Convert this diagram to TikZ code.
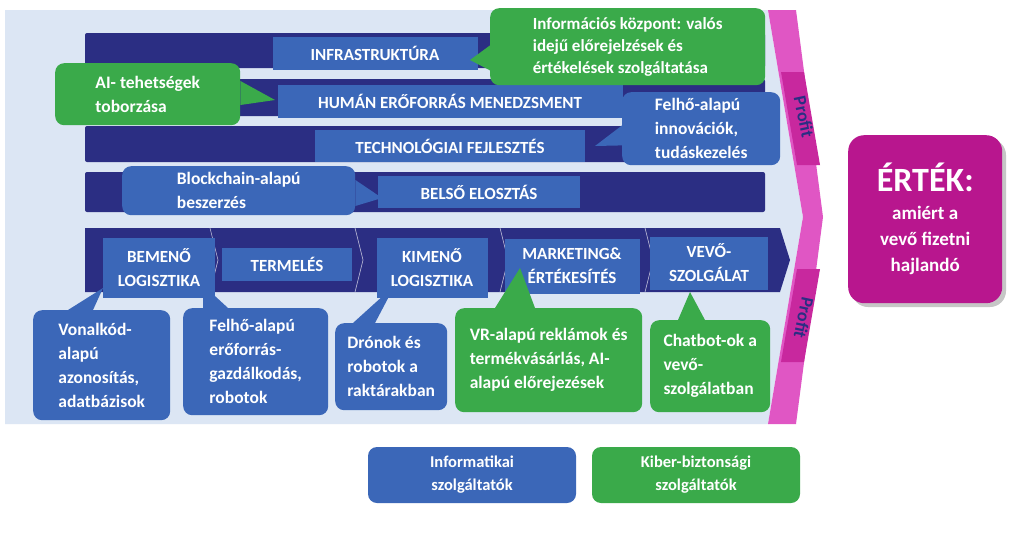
\documentclass[tikz,border=0pt]{standalone}
\usepackage{fontspec}
\setmainfont{Carlito}
\usetikzlibrary{positioning,calc}
\definecolor{bgblue}{HTML}{DCE6F4}
\definecolor{navy}{HTML}{2B2E83}
\definecolor{midblue}{HTML}{3B67B8}
\definecolor{leaf}{HTML}{3AAA4A}
\definecolor{pinkband}{HTML}{E056C4}
\definecolor{pinkdark}{HTML}{C8289E}
\definecolor{magent}{HTML}{B8168E}
\tikzset{
  lbl/.style={fill=midblue,text=white,font=\bfseries\fontsize{17}{19}\selectfont,align=center,inner sep=2pt},
  bubble/.style={rounded corners=9pt,text=white,font=\bfseries\fontsize{17.5}{24}\selectfont,align=left,inner sep=5pt,anchor=north west},
  bbl/.style={bubble,fill=midblue},
  gbl/.style={bubble,fill=leaf},
}
\newcommand{\tail}[4]{\fill[#1] (#2) -- (#3) -- (#4) -- cycle;}
\begin{document}
\begin{tikzpicture}[x=1pt,y=-1pt]
\useasboundingbox (0,0) rectangle (1012,538);
\fill[white] (0,0) rectangle (1012,538);

% background and profit band
\fill[bgblue] (5,10) -- (768,10) -- (803,217) -- (768,424) -- (5,424) -- cycle;
\fill[pinkband] (768,10) -- (796,10) -- (823,217) -- (796,424) -- (768,424) -- (803,217) -- cycle;
\fill[pinkdark] (781,72) -- (804,72) -- (820,165) -- (797,165) -- cycle;
\fill[pinkdark] (797,269) -- (820,269) -- (804,362) -- (781,362) -- cycle;
\node[rotate=-78,text=navy,font=\bfseries\fontsize{18}{20}\selectfont] (pf1) at (804,117) {Profit};
\node[rotate=-102,text=navy,font=\bfseries\fontsize{18}{20}\selectfont] (pf2) at (804,318) {Profit};

% support rows
\fill[navy,rounded corners=2pt] (85,33) rectangle (765,68);
\fill[navy,rounded corners=2pt] (85,79) rectangle (765,116);
\fill[navy,rounded corners=2pt] (85,126) rectangle (765,162);
\fill[navy,rounded corners=2pt] (85,172) rectangle (765,212);
\node[lbl,minimum width=205pt,minimum height=33pt] (infra) at (375,53) {INFRASTRUKTÚRA};
\node[lbl,minimum width=345pt,minimum height=33pt] (human) at (450,101) {HUMÁN ERŐFORRÁS MENEDZSMENT};
\node[lbl,minimum width=270pt,minimum height=32pt] (tech) at (450,146) {TECHNOLÓGIAI FEJLESZTÉS};
\node[lbl,minimum width=202pt,minimum height=32pt] (belso) at (479,192) {BELSŐ ELOSZTÁS};

% primary activities
\fill[navy] (85,228) -- (780,228) -- (790,260) -- (780,292) -- (85,292) -- cycle;
\foreach \x in {210,355,500,645}
  \draw[white!70!navy,line width=0.6pt] (\x,228) -- (\x+8,260) -- (\x,292);
\node[lbl,minimum width=112pt,minimum height=60pt] (bemeno) at (159,268) {BEMENŐ\\[5pt]LOGISZTIKA};
\node[lbl,minimum width=130pt,minimum height=33pt] (termeles) at (287,264) {TERMELÉS};
\node[lbl,minimum width=111pt,minimum height=60pt] (kimeno) at (432,268) {KIMENŐ\\[5pt]LOGISZTIKA};
\node[lbl,minimum width=135pt,minimum height=55pt] (marketing) at (572,266) {MARKETING\&\\[5pt]ÉRTÉKESÍTÉS};
\node[lbl,minimum width=118pt,minimum height=53pt] (vevo) at (709,263) {VEVŐ-\\[5pt]SZOLGÁLAT};

% callouts
\node[gbl,minimum width=275pt,minimum height=77pt,font=\bfseries\fontsize{17}{22}\selectfont] (info) at (490,8) {Információs központ: valós\\idejű előrejelzések és\\értékelések szolgáltatása};
\coordinate (infotip) at (470,60);
\tail{leaf}{$(info.south west)+(0,-40)$}{$(info.south west)+(0,-15)$}{infotip}
\node[gbl,minimum width=185pt,minimum height=62pt] (ai) at (55,63) {AI- tehetségek\\toborzása};
\coordinate (aitip) at (275,100);
\tail{leaf}{$(ai.north east)+(0,18)$}{$(ai.north east)+(0,42)$}{aitip}
\node[bbl,minimum width=158pt,minimum height=73pt] (felho) at (622,92) {Felhő-alapú\\innovációk,\\tudáskezelés};
\coordinate (felhotip) at (595,146);
\tail{midblue}{$(felho.south west)+(0,-40)$}{$(felho.south west)+(0,-20)$}{felhotip}
\node[bbl,minimum width=233pt,minimum height=49pt] (block) at (122,166) {Blockchain-alapú\\beszerzés};
\coordinate (blocktip) at (382,198);
\tail{midblue}{$(block.north east)+(0,14)$}{$(block.north east)+(0,40)$}{blocktip}

\node[bbl,minimum width=137pt,minimum height=110pt] (vonal) at (33,310) {Vonalkód-\\alapú\\azonosítás,\\adatbázisok};
\coordinate (vonaltip) at (103,288);
\tail{midblue}{$(vonal.north west)+(35,0)$}{$(vonal.north west)+(60,0)$}{vonaltip}
\node[bbl,minimum width=145pt,minimum height=107pt] (felho2) at (183,308) {Felhő-alapú\\erőforrás-\\gazdálkodás,\\robotok};
\coordinate (felho2tip) at (203,285);
\tail{midblue}{$(felho2.north west)+(20,0)$}{$(felho2.north west)+(45,0)$}{felho2tip}
\node[bbl,minimum width=112pt,minimum height=87pt] (dron) at (335,323) {Drónok és\\robotok a\\raktárakban};
\coordinate (drontip) at (395,285);
\tail{midblue}{$(dron.north west)+(18,0)$}{$(dron.north west)+(40,0)$}{drontip}
\node[gbl,minimum width=187pt,minimum height=104pt] (vr) at (455,308) {VR-alapú reklámok és\\termékvásárlás, AI-\\alapú előrejezések};
\coordinate (vrtip) at (520,268);
\tail{leaf}{$(vr.north west)+(40,0)$}{$(vr.north west)+(80,0)$}{vrtip}
\node[gbl,minimum width=120pt,minimum height=92pt] (chat) at (650,320) {Chatbot-ok a\\vevő-\\szolgálatban};
\coordinate (chattip) at (690,292);
\tail{leaf}{$(chat.north west)+(28,0)$}{$(chat.north west)+(55,0)$}{chattip}

% value
\fill[gray!45,rounded corners=16pt] (852,139) rectangle (1006,307);
\node[fill=magent,rounded corners=16pt,minimum width=154pt,minimum height=168pt,anchor=north west,text=white,align=center,font=\bfseries\fontsize{19}{26}\selectfont] (ertek) at (848,135) {{\fontsize{34}{38}\selectfont ÉRTÉK:}\\[2pt]amiért a\\vevő fizetni\\hajlandó};

% legend
\node[bbl,anchor=center,align=center,minimum width=208pt,minimum height=56pt,font=\bfseries\fontsize{16.5}{23}\selectfont] (legit) at (472,475) {Informatikai\\szolgáltatók};
\node[gbl,anchor=center,align=center,minimum width=208pt,minimum height=56pt,font=\bfseries\fontsize{16.5}{23}\selectfont] (legkb) at (696,475) {Kiber-biztonsági\\szolgáltatók};
\end{tikzpicture}
\end{document}
